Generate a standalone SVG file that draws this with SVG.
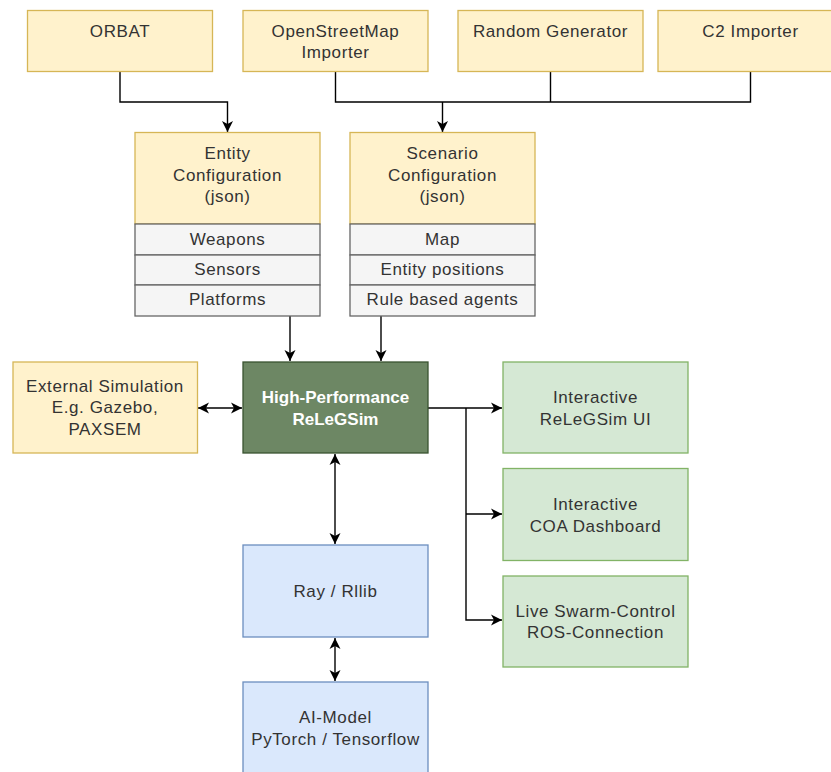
<svg xmlns="http://www.w3.org/2000/svg" width="831" height="772" viewBox="0 0 831 772">
<defs>
<marker id="ah" markerWidth="12" markerHeight="12" refX="11" refY="6" orient="auto" markerUnits="userSpaceOnUse"><path d="M0,0.5 L11,6 L0,11.5 L3,6 Z" fill="#000"/></marker>
<marker id="as" markerWidth="12" markerHeight="12" refX="0" refY="6" orient="auto" markerUnits="userSpaceOnUse"><path d="M11,0.5 L0,6 L11,11.5 L8,6 Z" fill="#000"/></marker>
</defs>
<style>
text{font-family:"Liberation Sans",Arial,sans-serif;font-size:17px;fill:#333333;text-anchor:middle;letter-spacing:0.6px}
.y{fill:#fff2cc;stroke:#d6b656;stroke-width:1.3}
.g{fill:#f5f5f5;stroke:#666666;stroke-width:1.3}
.dg{fill:#6d8764;stroke:#3a5431;stroke-width:1.3}
.lg{fill:#d5e8d4;stroke:#82b366;stroke-width:1.3}
.b{fill:#dae8fc;stroke:#6c8ebf;stroke-width:1.3}
text.w{fill:#ffffff;font-weight:bold;letter-spacing:0}
.c{fill:none;stroke:#000;stroke-width:1.4}
</style>
<rect width="831" height="772" fill="#ffffff"/>
<g id="connectors">
<path class="c" d="M120,72 V102 H227.5 V132" marker-end="url(#ah)"/>
<path class="c" d="M335.5,72 V102 H750.5 V72 M550.5,72 V102 M442.5,102 V132" marker-end="url(#ah)"/>
<path class="c" d="M290,316 V361" marker-end="url(#ah)"/>
<path class="c" d="M381,316 V361" marker-end="url(#ah)"/>
<path class="c" d="M198,408 H242" marker-start="url(#as)" marker-end="url(#ah)"/>
<path class="c" d="M428,408 H502" marker-end="url(#ah)"/>
<path class="c" d="M466,408 V620 H502" marker-end="url(#ah)"/>
<path class="c" d="M466,514 H502" marker-end="url(#ah)"/>
<path class="c" d="M335,454 V544" marker-start="url(#as)" marker-end="url(#ah)"/>
<path class="c" d="M335,638 V681" marker-start="url(#as)" marker-end="url(#ah)"/>
</g>
<g id="orbat"><rect class="y" x="27.5" y="10.5" width="185" height="61"/><text x="120" y="37">ORBAT</text></g>
<g id="osm"><rect class="y" x="243" y="10.5" width="185" height="61"/><text x="335.5" y="37">OpenStreetMap</text><text x="335.5" y="58">Importer</text></g>
<g id="random"><rect class="y" x="458" y="10.5" width="185" height="61"/><text x="550.5" y="37">Random Generator</text></g>
<g id="c2"><rect class="y" x="658" y="10.5" width="185" height="61"/><text x="750.5" y="37">C2 Importer</text></g>
<g id="entity">
<rect class="y" x="135" y="132.5" width="185" height="91.5"/>
<text x="227.5" y="159">Entity</text><text x="227.5" y="181">Configuration</text><text x="227.5" y="202">(json)</text>
<rect class="g" x="135" y="224" width="185" height="31"/><text x="227.5" y="245">Weapons</text>
<rect class="g" x="135" y="255" width="185" height="30"/><text x="227.5" y="275">Sensors</text>
<rect class="g" x="135" y="285" width="185" height="31"/><text x="227.5" y="305">Platforms</text>
</g>
<g id="scenario">
<rect class="y" x="350" y="132.5" width="185" height="91.5"/>
<text x="442.5" y="159">Scenario</text><text x="442.5" y="181">Configuration</text><text x="442.5" y="202">(json)</text>
<rect class="g" x="350" y="224" width="185" height="31"/><text x="442.5" y="245">Map</text>
<rect class="g" x="350" y="255" width="185" height="30"/><text x="442.5" y="275">Entity positions</text>
<rect class="g" x="350" y="285" width="185" height="31"/><text x="442.5" y="305">Rule based agents</text>
</g>
<g id="external"><rect class="y" x="13" y="362" width="184.5" height="91"/><text x="105" y="392">External Simulation</text><text x="105" y="413">E.g. Gazebo,</text><text x="105" y="435">PAXSEM</text></g>
<g id="relegsim"><rect class="dg" x="243" y="362" width="185" height="91"/><text class="w" x="335.5" y="403">High-Performance</text><text class="w" x="335.5" y="425">ReLeGSim</text></g>
<g id="ui"><rect class="lg" x="503" y="362" width="185" height="91"/><text x="595.5" y="403">Interactive</text><text x="595.5" y="425">ReLeGSim UI</text></g>
<g id="coa"><rect class="lg" x="503" y="468.5" width="185" height="92"/><text x="595.5" y="510">Interactive</text><text x="595.5" y="532">COA Dashboard</text></g>
<g id="ros"><rect class="lg" x="503" y="576" width="185" height="91"/><text x="595.5" y="617">Live Swarm-Control</text><text x="595.5" y="638">ROS-Connection</text></g>
<g id="ray"><rect class="b" x="243" y="545" width="185" height="92"/><text x="335.5" y="597">Ray / Rllib</text></g>
<g id="aimodel"><rect class="b" x="243" y="682" width="185" height="100"/><text x="335.5" y="723">AI-Model</text><text x="335.5" y="745">PyTorch / Tensorflow</text></g>
</svg>
